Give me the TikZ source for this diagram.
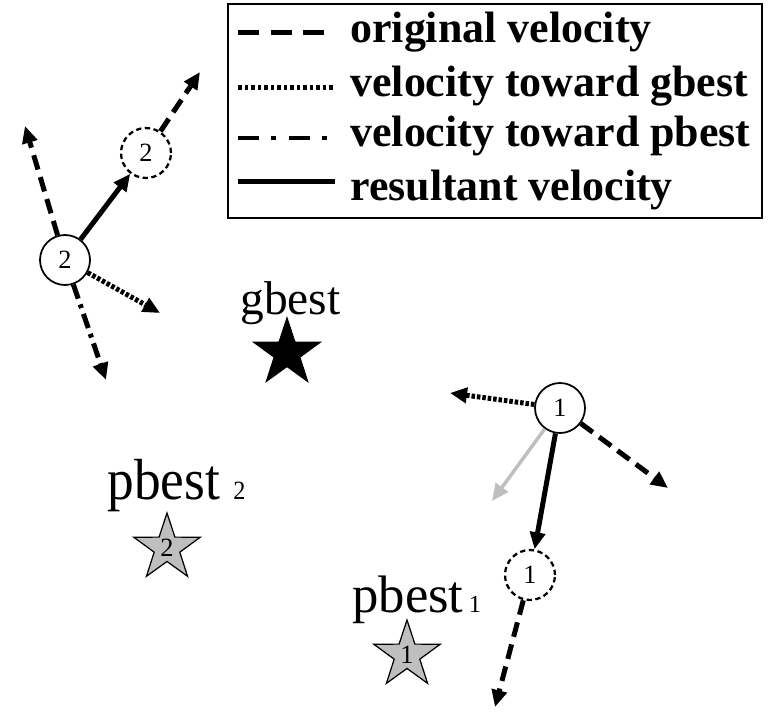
\documentclass[tikz,border=0pt]{standalone}
\usepackage{fontspec}
\setmainfont{Liberation Serif}
\usepackage{graphicx}
\usetikzlibrary{shapes.geometric, arrows.meta}
\newcommand{\squeezed}[2]{\scalebox{#1}[1]{#2}}

\begin{document}
\begin{tikzpicture}[x=0.02cm, y=-0.02cm,
    vec/.style={line width=0.1cm, -{Triangle[length=0.34cm, width=0.3cm]}},
    orig/.style={vec, dash pattern=on 8.5pt off 4.5pt},
    togb/.style={vec, dash pattern=on 2pt off 1.1pt},
    topb/.style={vec, dash pattern=on 8.5pt off 3.5pt on 2.2pt off 3.5pt},
    res/.style={vec},
    particle/.style={circle, draw, line width=1pt, fill=white, minimum size=1.0cm,
                     inner sep=0pt, font=\fontsize{15}{15}\selectfont},
    ghost/.style={particle, line width=1.3pt, dash pattern=on 3pt off 2pt},
    beststar/.style={star, star points=5, star point ratio=2.6, draw, line width=0.7pt,
                     fill=#1, minimum size=1.4cm, inner sep=0pt, font=\fontsize{15}{15}\selectfont},
    lbl/.style={anchor=base west, inner sep=0pt},
    legtext/.style={anchor=base west, inner sep=0pt, font=\fontsize{25}{25}\selectfont\bfseries},
    legline/.style={line width=0.1cm}
]
    \useasboundingbox (0,0) rectangle (774,713);

    % Legend
    \draw[line width=1.1pt] (228,4) rectangle (762,218);
    \draw[legline, dash pattern=on 12pt off 6.6pt] (238,33) -- (335,33);
    \draw[legline, dash pattern=on 2.2pt off 1.5pt] (238,88) -- (335,88);
    \draw[legline, dash pattern=on 12pt off 7pt on 2.8pt off 7pt] (238,138) -- (335,138);
    \draw[legline] (238,181) -- (335,181);
    \node[legtext] (leg1) at (350,43) {original velocity};
    \node[legtext] (leg2) at (350,97) {velocity toward gbest};
    \node[legtext] (leg3) at (350,147) {velocity toward pbest};
    \node[legtext] (leg4) at (350,200) {resultant velocity};

    % Best positions
    \node[beststar=black] (gbest) at (287,353) {};
    \node[beststar=black!25] (pbest2) at (167,548) {2};
    \node[beststar=black!25] (pbest1) at (407,655) {1};
    \node[lbl, font=\fontsize{27}{27}\selectfont] (gbestlbl) at (240,314) {gbest};
    \node[lbl, font=\fontsize{33}{33}\selectfont] (pbest2lbl) at (107,499)
        {\squeezed{0.92}{pbest\hspace{0.25em}{\fontsize{15}{15}\selectfont 2}}};
    \node[lbl, font=\fontsize{30}{30}\selectfont] (pbest1lbl) at (352,612)
        {pbest\hspace{0.1em}{\fontsize{14}{14}\selectfont 1}};

    % Particle 2
    \node[particle] (p2) at (65,260) {2};
    \node[ghost] (q2) at (146,153) {2};
    \coordinate (p2orig) at (25,126);
    \coordinate (p2gb) at (160,313);
    \coordinate (p2pb) at (106,380);
    \coordinate (q2next) at (200,72);
    \draw[orig] (p2) -- (p2orig);
    \draw[togb] (p2) -- (p2gb);
    \draw[topb] (p2) -- (p2pb);
    \draw[res] (p2) -- (q2);
    \draw[orig] (q2) -- (q2next);

    % Particle 1
    \node[particle] (p1) at (560,408) {1};
    \node[ghost] (q1) at (530,575) {1};
    \coordinate (p1orig) at (668,488);
    \coordinate (p1gb) at (450,393);
    \coordinate (p1gray) at (492,501);
    \coordinate (q1next) at (495,707);
    \draw[togb] (p1) -- (p1gb);
    \draw[orig] (p1) -- (p1orig);
    \draw[vec, line width=0.07cm, black!25] (p1) -- (p1gray);
    \draw[res] (p1) -- (q1);
    \draw[orig] (q1) -- (q1next);
\end{tikzpicture}
\end{document}
